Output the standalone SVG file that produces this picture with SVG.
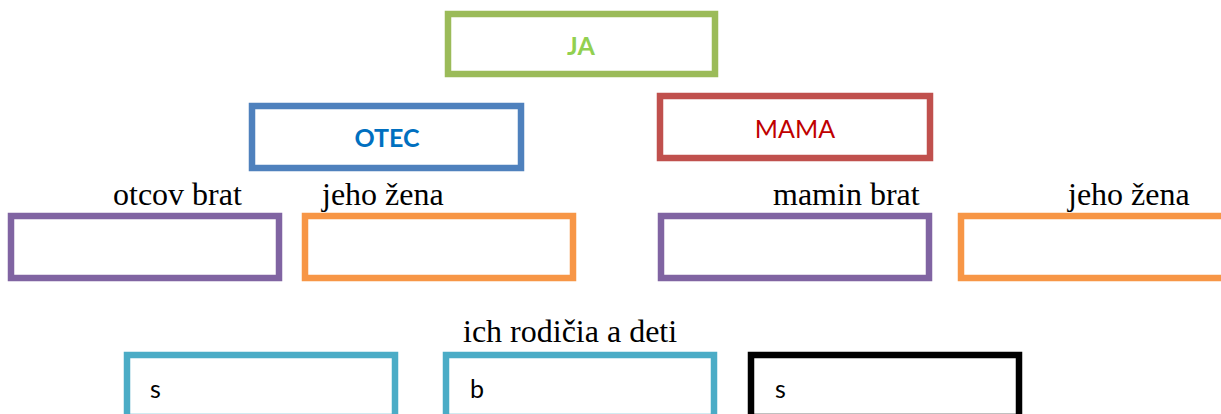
<svg xmlns="http://www.w3.org/2000/svg" width="1221" height="414" viewBox="0 0 1221 414">
<style>
.box{fill:#fff;stroke-width:6.5}
.lbl{font-family:"Liberation Serif","Times New Roman",serif;font-size:32px;fill:#000}
.sans{font-family:Lato,"Open Sans",sans-serif;font-size:25px}
</style>
<rect width="1221" height="414" fill="#fff"/>
<g id="connectors"></g>
<g id="ja"><rect class="box" x="448" y="14" width="267" height="60" stroke="#9BBB59"/><text class="sans" x="581" y="55" text-anchor="middle" font-weight="bold" fill="#92D050">JA</text></g>
<g id="otec"><rect class="box" x="252" y="106" width="269" height="62" stroke="#4F81BD"/><text class="sans" x="387" y="147" text-anchor="middle" font-weight="bold" fill="#0070C0">OTEC</text></g>
<g id="mama"><rect class="box" x="660" y="96" width="270" height="62" stroke="#C0504D"/><text class="sans" x="795" y="138" text-anchor="middle" fill="#C00000">MAMA</text></g>
<g id="otcov-brat"><text class="lbl" x="113" y="205">otcov brat</text><rect class="box" x="11" y="216" width="268" height="62" stroke="#8064A2"/></g>
<g id="jeho-zena-1"><text class="lbl" x="322" y="205">jeho žena</text><rect class="box" x="305" y="216" width="268" height="62" stroke="#F79646"/></g>
<g id="mamin-brat"><text class="lbl" x="773" y="205">mamin brat</text><rect class="box" x="661" y="216" width="268" height="62" stroke="#8064A2"/></g>
<g id="jeho-zena-2"><text class="lbl" x="1068" y="205">jeho žena</text><rect class="box" x="961" y="216" width="268" height="62" stroke="#F79646"/></g>
<g id="ich-rodicia"><text class="lbl" x="463" y="342">ich rodičia a deti</text></g>
<g id="s1"><rect class="box" x="127" y="355" width="268" height="62" stroke="#4BACC6"/><text class="sans" x="150" y="398" fill="#000">s</text></g>
<g id="b"><rect class="box" x="446" y="355" width="268" height="62" stroke="#4BACC6"/><text class="sans" x="470" y="398" fill="#000">b</text></g>
<g id="s2"><rect class="box" x="751" y="355" width="268" height="62" stroke="#000"/><text class="sans" x="775" y="398" fill="#000">s</text></g>
</svg>
